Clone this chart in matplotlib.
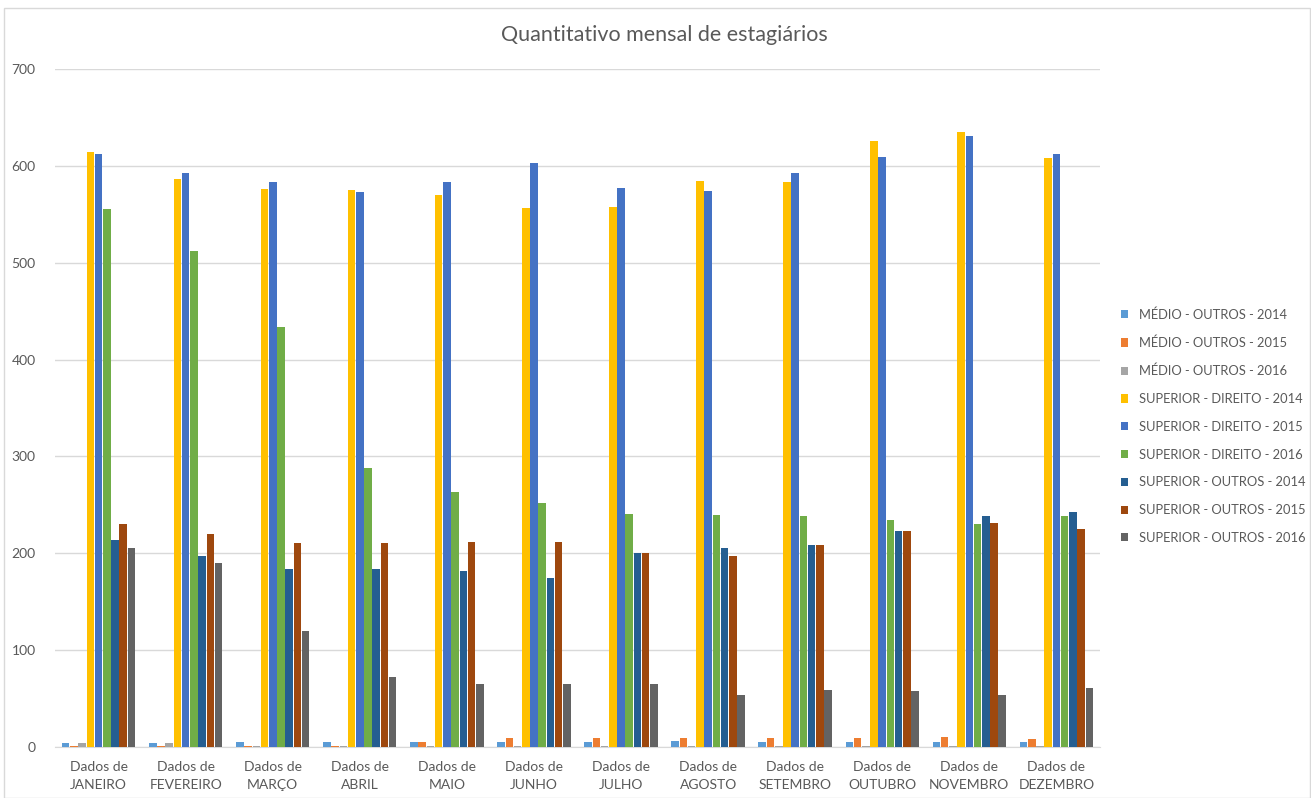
import matplotlib

matplotlib.use("Agg")
import matplotlib.pyplot as plt
import numpy as np
from matplotlib.patches import Rectangle

plt.rcParams["font.family"] = ["Lato", "DejaVu Sans"]

months = ["JANEIRO", "FEVEREIRO", "MARÇO", "ABRIL", "MAIO", "JUNHO",
          "JULHO", "AGOSTO", "SETEMBRO", "OUTUBRO", "NOVEMBRO", "DEZEMBRO"]
series_names = [
    "MÉDIO - OUTROS - 2014", "MÉDIO - OUTROS - 2015", "MÉDIO - OUTROS - 2016",
    "SUPERIOR - DIREITO - 2014", "SUPERIOR - DIREITO - 2015", "SUPERIOR - DIREITO - 2016",
    "SUPERIOR - OUTROS - 2014", "SUPERIOR - OUTROS - 2015", "SUPERIOR - OUTROS - 2016",
]
colors = ["#5B9BD5", "#ED7D31", "#A5A5A5", "#FFC000", "#4472C4", "#70AD47",
          "#255E91", "#9E480E", "#636363"]

medio_outros_2014 = [4, 4, 5, 5, 5, 5, 5, 6, 5, 5, 5, 5]
medio_outros_2015 = [1, 1, 1, 1, 5, 9, 9, 9, 9, 9, 10, 8]
medio_outros_2016 = [4, 4, 1, 1, 1, 1, 1, 1, 1, 1, 1, 1]
sup_direito_2014 = [614, 586, 576, 575, 570, 556, 558, 584, 583, 626, 635, 608]
sup_direito_2015 = [612, 593, 583, 573, 583, 603, 577, 574, 593, 609, 631, 612]
sup_direito_2016 = [555, 512, 434, 288, 263, 252, 241, 239, 238, 234, 230, 238]
sup_outros_2014 = [214, 197, 184, 184, 182, 174, 200, 205, 209, 223, 238, 243]
sup_outros_2015 = [230, 220, 211, 211, 212, 212, 200, 197, 209, 223, 231, 225]
sup_outros_2016 = [205, 190, 120, 72, 65, 65, 65, 54, 59, 58, 54, 61]

series = [medio_outros_2014, medio_outros_2015, medio_outros_2016,
          sup_direito_2014, sup_direito_2015, sup_direito_2016,
          sup_outros_2014, sup_outros_2015, sup_outros_2016]

TXT = "#595959"

fig = plt.figure(figsize=(13.11, 7.98), dpi=100)
ax = fig.add_axes([0.042, 0.064, 0.797, 0.8495])

x = np.arange(len(months))
n = len(series)
w = 0.85 / n
for i, (vals, name, c) in enumerate(zip(series, series_names, colors)):
    ax.bar(x + (i - (n - 1) / 2) * w, vals, width=w * 0.92, color=c, label=name,
           linewidth=0, zorder=3)

ax.set_xlim(-0.5, len(months) - 0.5)
ax.set_ylim(0, 700)
ax.set_yticks(range(0, 701, 100))
ax.yaxis.grid(True, color="#d9d9d9", lw=1, zorder=0)
ax.set_xticks(x)
ax.set_xticklabels([f"Dados de\n{m}" for m in months], fontsize=10, color=TXT,
                   linespacing=1.65)
ax.tick_params(axis="y", labelsize=10, colors=TXT, length=0, pad=14)
ax.tick_params(axis="x", length=0, pad=10)
for s in ("top", "right", "left"):
    ax.spines[s].set_visible(False)
ax.spines["bottom"].set_color("#d9d9d9")

fig.text(0.507, 0.956, "Quantitativo mensal de estagiários", ha="center", va="center",
         fontsize=15.5, color=TXT)

fig.legend(loc="center left", bbox_to_anchor=(0.846, 0.466), frameon=False,
           fontsize=9.3, labelcolor=TXT, handlelength=0.6, handleheight=0.6,
           handletextpad=0.8, labelspacing=1.22)

fig.patches.append(Rectangle((0.003, 0.0), 0.996, 0.99, transform=fig.transFigure,
                             fill=False, edgecolor="#d9d9d9", lw=1))

fig.savefig("out.png", dpi=100)
